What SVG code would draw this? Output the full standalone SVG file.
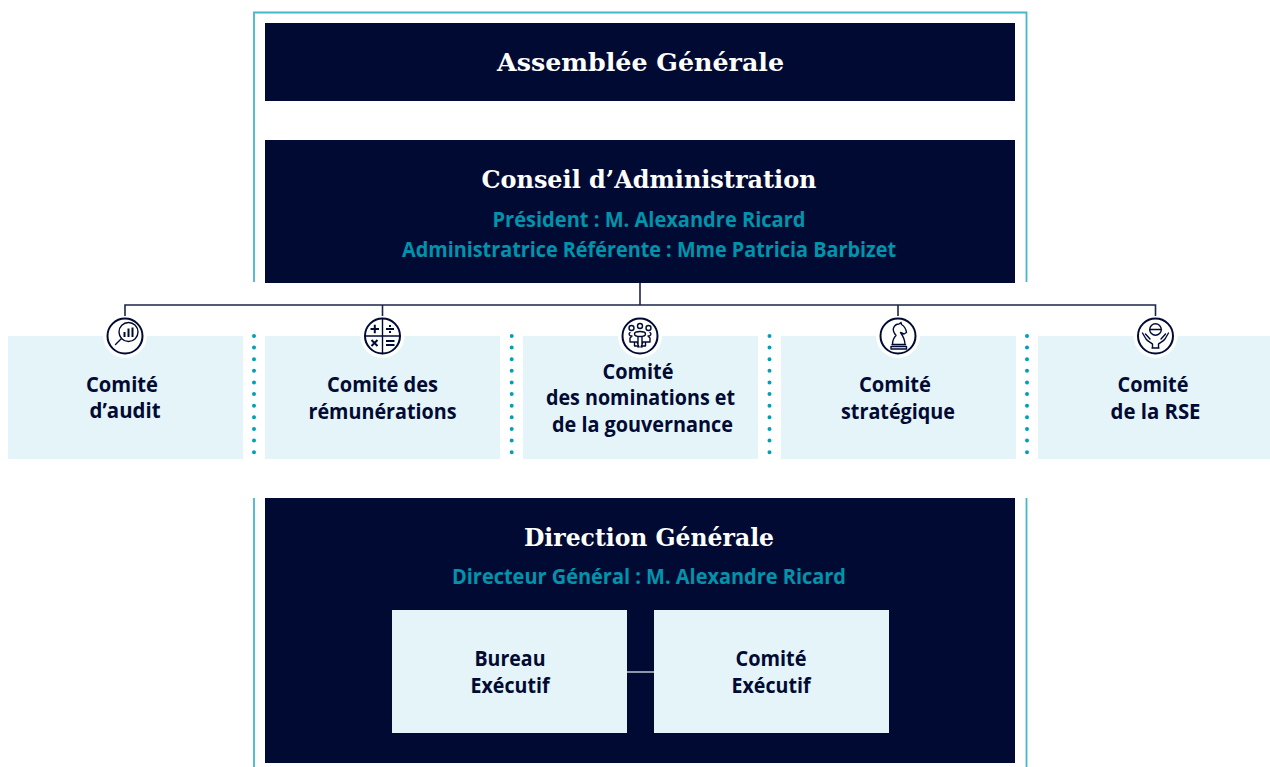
<svg xmlns="http://www.w3.org/2000/svg" width="1270" height="767" viewBox="0 0 1270 767">
<style>
.dark{fill:#000a33}
.light{fill:#e4f4f8}
.head{font-family:"DejaVu Serif",serif;font-weight:700;font-size:24px;fill:#fff;text-anchor:middle}
.sub{font-family:"Open Sans","Noto Sans",sans-serif;font-weight:700;font-size:22px;fill:#0094ac;text-anchor:middle}
.lab{font-family:"Open Sans","Noto Sans",sans-serif;font-weight:700;font-size:21px;fill:#000a33;text-anchor:middle}
.frame{fill:none;stroke:#45b6cb;stroke-width:1.800}
.conn{fill:none;stroke:#1c2549;stroke-width:1.6}
.dots{fill:none;stroke:#00a0b8;stroke-width:4;stroke-linecap:round;stroke-dasharray:0 11.62}
.halo{fill:#fff}
.ring{fill:#fff;stroke:#000a33;stroke-width:2}
.ic{fill:none;stroke:#000a33;stroke-width:1.400;stroke-linecap:round;stroke-linejoin:round}
.ib{fill:none;stroke:#000a33;stroke-width:2;stroke-linecap:butt}
</style>
<g id="frame">
<path class="frame" d="M254 282V12.500H1026.500V282"/>
<path class="frame" d="M254 498V767M1026.500 498V767"/>
</g>
<g id="assemblee">
<rect class="dark" x="265" y="23" width="750" height="78"/>
<text class="head" x="640.500" y="71" textLength="287" lengthAdjust="spacingAndGlyphs">Assemblée Générale</text>
</g>
<g id="conseil">
<rect class="dark" x="265" y="140" width="750" height="143"/>
<text class="head" x="649" y="188" textLength="335" lengthAdjust="spacingAndGlyphs">Conseil d’Administration</text>
<text class="sub" x="649" y="226.700" textLength="313" lengthAdjust="spacingAndGlyphs">Président : M. Alexandre Ricard</text>
<text class="sub" x="649" y="256.700" textLength="494" lengthAdjust="spacingAndGlyphs">Administratrice Référente : Mme Patricia Barbizet</text>
</g>
<g id="comite-audit">
<rect class="light" x="8" y="336" width="235" height="123"/>
<circle class="halo" cx="125" cy="336" r="22"/><circle class="ring" cx="125" cy="336" r="17.500"/>
<circle class="ic" cx="128.500" cy="332" r="9.500"/><path class="ic" d="M121.500 338.500L115.500 344.500"/><path class="ib" d="M124.500 337V332M128.500 337V328.500M132.500 337V327.500"/>
<text class="lab" x="122" y="391.700" textLength="72" lengthAdjust="spacingAndGlyphs">Comité</text>
<text class="lab" x="125" y="417.700" textLength="71" lengthAdjust="spacingAndGlyphs">d’audit</text>
</g>
<g id="comite-remunerations">
<rect class="light" x="265" y="336" width="235" height="123"/>
<circle class="halo" cx="382.500" cy="336" r="22"/><circle class="ring" cx="382.500" cy="336" r="17.500"/>
<path class="ic" d="M382.500 318.500V353.500M365 336H400"/>
<path class="ib" d="M370.500 329H379M374.800 324.800V333.200M386 329H394M390 325V327M390 331V333M371.500 340L377.500 346M377.500 340L371.500 346M386 341H394.500M386 345H394.500"/>
<text class="lab" x="382.500" y="391.700" textLength="111" lengthAdjust="spacingAndGlyphs">Comité des</text>
<text class="lab" x="382.500" y="418.700" textLength="148" lengthAdjust="spacingAndGlyphs">rémunérations</text>
</g>
<g id="comite-nominations">
<rect class="light" x="523" y="336" width="235" height="123"/>
<circle class="halo" cx="640" cy="336" r="22"/><circle class="ring" cx="640" cy="336" r="17.500"/>
<circle class="ic" cx="640" cy="326" r="2.500"/><circle class="ic" cx="631.500" cy="328" r="2.500"/><circle class="ic" cx="648.500" cy="328" r="2.500"/>
<ellipse class="ic" cx="640" cy="334" rx="5.500" ry="2.500"/>
<path class="ic" d="M630 332.500C628 334 629.500 336 632 336L630 338L630 342H637L639 347M650 332.500C652 334 650.500 336 648 336L650 338L650 342H643L641 347M638 337V347M642 337V347M634.500 342V346H638M645.500 342V346H642"/>
<text class="lab" x="638" y="378.700" textLength="71" lengthAdjust="spacingAndGlyphs">Comité</text>
<text class="lab" x="640.500" y="404.700" textLength="189" lengthAdjust="spacingAndGlyphs">des nominations et</text>
<text class="lab" x="642.500" y="431.700" textLength="181" lengthAdjust="spacingAndGlyphs">de la gouvernance</text>
</g>
<g id="comite-strategique">
<rect class="light" x="781" y="336" width="235" height="123"/>
<circle class="halo" cx="898" cy="336" r="22"/><circle class="ring" cx="898" cy="336" r="17.500"/>
<path class="ic" d="M892.500 344.500C892.500 340 893.500 338 896 335.500C894 333 892.500 331 893.500 328C894.500 325.500 897 324 899 324L901 322.500L901.500 324.500C904 326 906 329 906.500 332.500L904 334L900.500 332.500C903 336 905 340 905 344.500ZM892 344.500H905.500M891 349H906.500V346.500H891Z"/>
<text class="lab" x="895" y="391.700" textLength="72" lengthAdjust="spacingAndGlyphs">Comité</text>
<text class="lab" x="898" y="418.700" textLength="114" lengthAdjust="spacingAndGlyphs">stratégique</text>
</g>
<g id="comite-rse">
<rect class="light" x="1038" y="336" width="232" height="123"/>
<circle class="halo" cx="1155.500" cy="336" r="22"/><circle class="ring" cx="1155.500" cy="336" r="17.500"/>
<circle class="ic" cx="1155.500" cy="329.500" r="5.800"/><path class="ic" d="M1149.700 329.500H1161.300M1142.500 333L1146 339C1148 341.500 1151 342.500 1152.500 344V348H1158.500V344C1160 342.500 1163 341.500 1165 339L1168.500 333M1145.500 334L1150 339M1165.500 334L1161 339M1152 348H1159"/>
<text class="lab" x="1153" y="391.700" textLength="71" lengthAdjust="spacingAndGlyphs">Comité</text>
<text class="lab" x="1155.500" y="418.700" textLength="90" lengthAdjust="spacingAndGlyphs">de la RSE</text>
</g>
<g id="direction">
<rect class="dark" x="265" y="498" width="750" height="265"/>
<text class="head" x="649" y="546" textLength="250" lengthAdjust="spacingAndGlyphs">Direction Générale</text>
<text class="sub" x="649" y="584.300" textLength="394" lengthAdjust="spacingAndGlyphs">Directeur Général : M. Alexandre Ricard</text>
</g>
<g id="bureau">
<rect class="light" x="392" y="610" width="235" height="123"/>
<text class="lab" x="510" y="665.700" textLength="71" lengthAdjust="spacingAndGlyphs">Bureau</text>
<text class="lab" x="510" y="692.500" textLength="79" lengthAdjust="spacingAndGlyphs">Exécutif</text>
</g>
<g id="comex">
<rect class="light" x="654" y="610" width="235" height="123"/>
<text class="lab" x="771" y="665.700" textLength="71" lengthAdjust="spacingAndGlyphs">Comité</text>
<text class="lab" x="771" y="692.500" textLength="79" lengthAdjust="spacingAndGlyphs">Exécutif</text>
</g>
<g id="connectors">
<path class="conn" d="M640 283V305M125 316V305H1155.500V316M382.500 305V316M898 305V316"/>
<path d="M627 672H654" fill="none" stroke="#b4bac6" stroke-width="1.600"/>
<path class="dots" d="M254 336V458M511.700 336V458M769.500 336V458M1027 336V458"/>
</g>
</svg>
